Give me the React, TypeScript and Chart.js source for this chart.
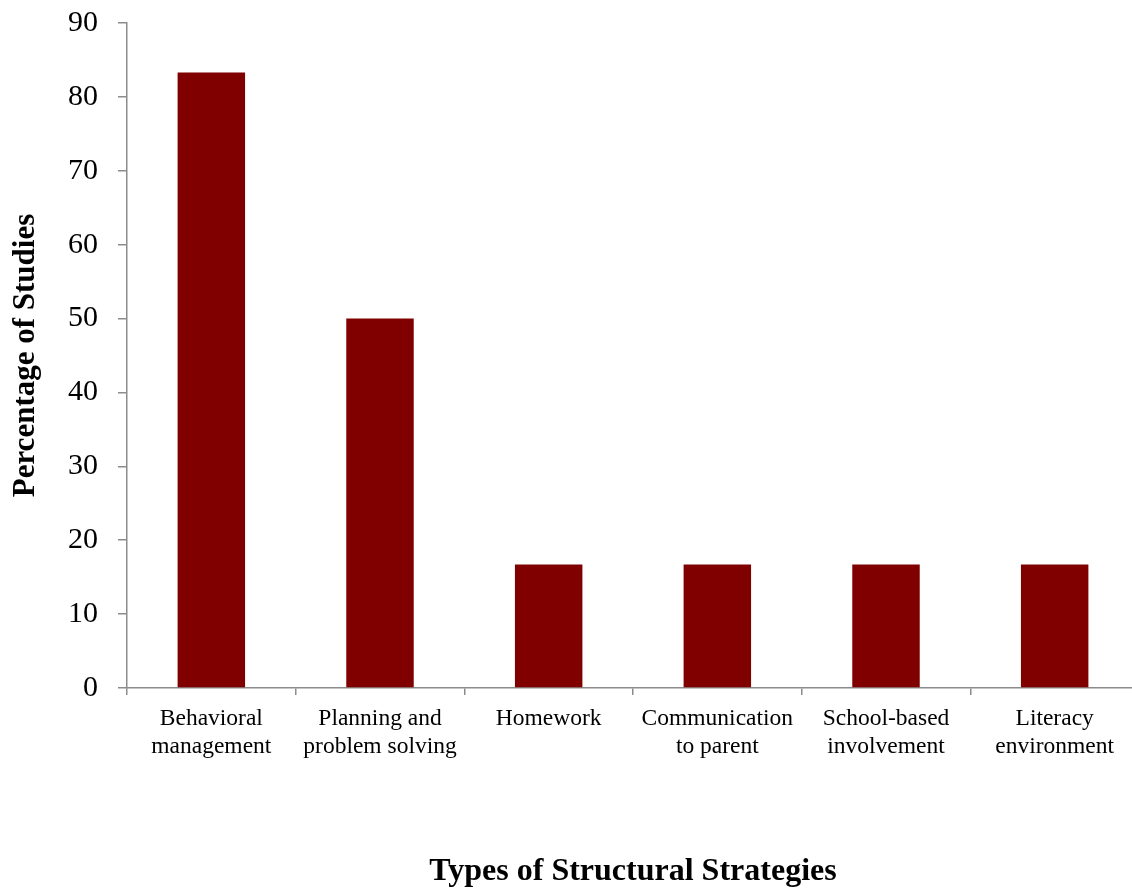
import React, { useEffect, useRef } from "react";
import { Chart, registerables } from "chart.js";

Chart.register(...registerables);

const categories: string[][] = [
  ["Behavioral", "management"],
  ["Planning and", "problem solving"],
  ["Homework"],
  ["Communication", "to parent"],
  ["School-based", "involvement"],
  ["Literacy", "environment"],
];
const percentages: number[] = [83.3, 50, 16.7, 16.7, 16.7, 16.7];
const yTitle = "Percentage of Studies";
const xTitle = "Types of Structural Strategies";

export default function App() {
  const ref = useRef<HTMLCanvasElement | null>(null);
  useEffect(() => {
    document.body.style.margin = "0";
    document.body.style.overflow = "hidden";
    if (!ref.current) return;
    const axisColor = "#8c8c8c";
    const serif = "'Liberation Serif', 'Times New Roman', serif";
    const chart = new Chart(ref.current, {
      type: "bar",
      data: {
        labels: categories,
        datasets: [
          {
            data: percentages,
            backgroundColor: "#800000",
            borderWidth: 0,
            barPercentage: 0.4,
            categoryPercentage: 1,
          },
        ],
      },
      options: {
        responsive: false,
        animation: false,
        layout: { padding: { top: 23, right: 0, left: 0, bottom: 0 } },
        plugins: { legend: { display: false }, tooltip: { enabled: false } },
        scales: {
          x: {
            offset: true,
            grid: {
              offset: true,
              drawOnChartArea: false,
              drawTicks: true,
              tickLength: 7,
              color: axisColor,
              lineWidth: 1.5,
            },
            border: { color: axisColor, width: 1.5 },
            ticks: {
              color: "#000",
              padding: 10,
              maxRotation: 0,
              autoSkip: false,
              font: { family: serif, size: 23.5, lineHeight: 1.2 },
            },
            title: {
              display: true,
              text: xTitle,
              color: "#000",
              padding: { top: 0, bottom: 1 },
              font: { family: serif, size: 32, weight: "bold", lineHeight: 1.2 },
            },
            afterFit: (s: any) => {
              s.height = 204;
              s.paddingLeft = 0;
              s.paddingRight = 0;
            },
          },
          y: {
            min: 0,
            max: 90,
            ticks: {
              stepSize: 10,
              color: "#000",
              padding: 20,
              font: { family: serif, size: 30 },
            },
            grid: {
              drawOnChartArea: false,
              drawTicks: true,
              tickLength: 9,
              color: axisColor,
              lineWidth: 1.5,
            },
            border: { color: axisColor, width: 1.5 },
            title: {
              display: true,
              text: yTitle,
              color: "#000",
              padding: { top: 7, bottom: 0 },
              font: { family: serif, size: 31, weight: "bold", lineHeight: 1.2 },
            },
            afterFit: (s: any) => {
              s.width = 127;
              s.paddingTop = 0;
              s.paddingBottom = 0;
            },
          },
        },
      },
    });
    return () => chart.destroy();
  }, []);
  return (
    <div style={{ width: 1132, height: 892, overflow: "hidden" }}>
      <canvas ref={ref} width={1139} height={892} style={{ display: "block" }} />
    </div>
  );
}
